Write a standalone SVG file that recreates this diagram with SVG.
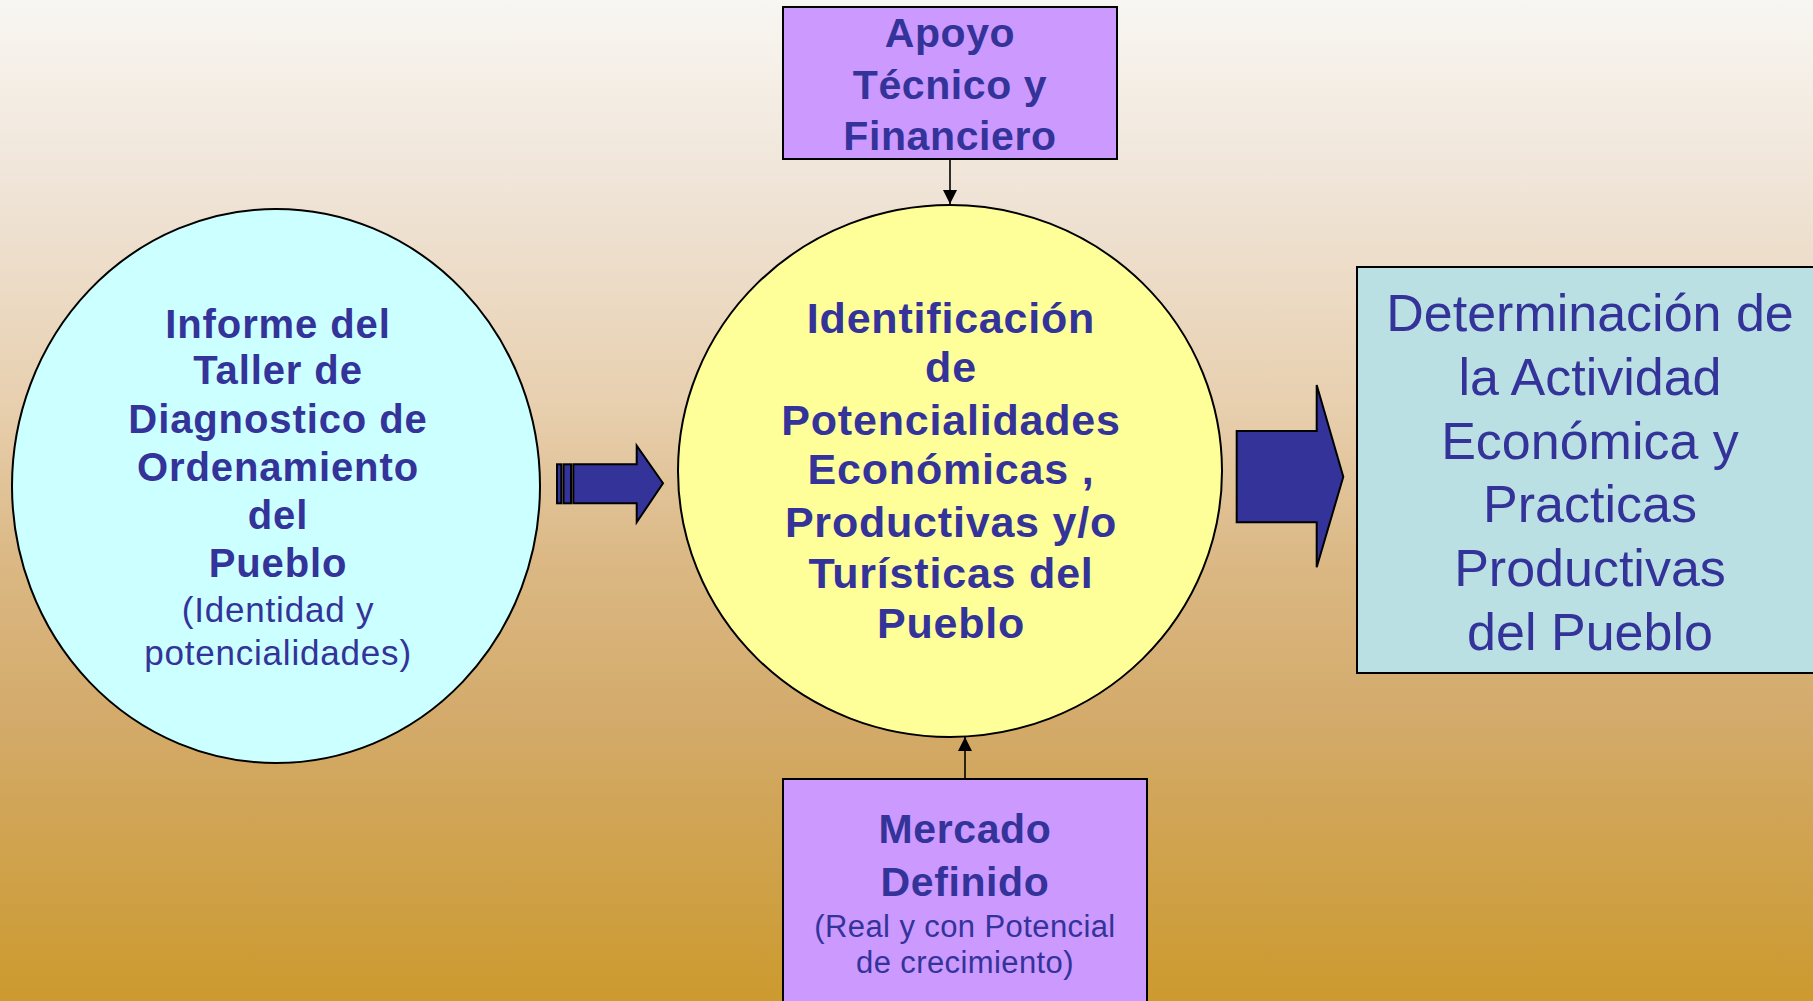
<svg xmlns="http://www.w3.org/2000/svg" width="1813" height="1001" viewBox="0 0 1813 1001">
<defs>
<linearGradient id="bg" x1="0" y1="0" x2="0" y2="1">
<stop offset="0" stop-color="#f8f6f2"/>
<stop offset="0.2" stop-color="#efe3d5"/>
<stop offset="0.4" stop-color="#e8d0b0"/>
<stop offset="0.56" stop-color="#dbb884"/>
<stop offset="0.72" stop-color="#d3aa6a"/>
<stop offset="1" stop-color="#cc9a2e"/>
</linearGradient>
<marker id="ah" viewBox="0 0 14 14" refX="14" refY="7" markerWidth="14" markerHeight="14" markerUnits="userSpaceOnUse" orient="auto">
<path d="M0,0 L14,7 L0,14 Z" fill="#000"/>
</marker>
</defs>
<style>
.b{font-family:"Liberation Sans",Arial,sans-serif;font-weight:bold;fill:#333399;text-anchor:middle}
.r{font-family:"Liberation Sans",Arial,sans-serif;fill:#333399;text-anchor:middle}
.shape{stroke:#000;stroke-width:2}
.big{fill:#333399;stroke:#000;stroke-width:2;stroke-linejoin:miter}
.conn{stroke:#000;stroke-width:1.6;fill:none}
</style>
<rect x="0" y="0" width="1813" height="1001" fill="url(#bg)"/>

<g id="connectors">
<line class="conn" x1="950" y1="159" x2="950" y2="204" marker-end="url(#ah)"/>
<line class="conn" x1="965" y1="779" x2="965" y2="737" marker-end="url(#ah)"/>
<g id="arrow-left">
<rect class="big" x="557" y="464.3" width="4.3" height="39"/>
<rect class="big" x="563.5" y="464.3" width="7.5" height="39"/>
<polygon class="big" points="573.3,464.3 636.7,464.3 636.7,445.7 663,483.3 636.7,522.3 636.7,503.3 573.3,503.3"/>
</g>
<g id="arrow-right">
<polygon class="big" points="1236.7,431 1316.7,431 1316.7,385 1343.3,476.7 1316.7,567.3 1316.7,522.3 1236.7,522.3"/>
</g>
</g>

<g id="node-apoyo">
<rect class="shape" x="783" y="7" width="334" height="152" fill="#cc99ff"/>
<text class="b" font-size="41" letter-spacing="0.6" x="950" y="47">Apoyo</text>
<text class="b" font-size="41" letter-spacing="0.6" x="950" y="99">Técnico y</text>
<text class="b" font-size="41" letter-spacing="0.6" x="950" y="150">Financiero</text>
</g>

<g id="node-informe">
<ellipse class="shape" cx="276" cy="486" rx="264" ry="277" fill="#ccffff"/>
<text class="b" font-size="40" letter-spacing="0.9" x="278" y="338">Informe del</text>
<text class="b" font-size="40" letter-spacing="0.9" x="278" y="384">Taller de</text>
<text class="b" font-size="40" letter-spacing="0.9" x="278" y="433">Diagnostico de</text>
<text class="b" font-size="40" letter-spacing="0.9" x="278" y="481">Ordenamiento</text>
<text class="b" font-size="40" letter-spacing="0.9" x="278" y="529">del</text>
<text class="b" font-size="40" letter-spacing="0.9" x="278" y="577">Pueblo</text>
<text class="r" font-size="35" letter-spacing="0.8" x="278" y="622">(Identidad y</text>
<text class="r" font-size="35" letter-spacing="0.8" x="278" y="665">potencialidades)</text>
</g>

<g id="node-identificacion">
<ellipse class="shape" cx="950" cy="471" rx="272" ry="266" fill="#ffff99"/>
<text class="b" font-size="43" letter-spacing="0.8" x="951" y="333">Identificación</text>
<text class="b" font-size="43" letter-spacing="0.8" x="951" y="382">de</text>
<text class="b" font-size="43" letter-spacing="0.8" x="951" y="435">Potencialidades</text>
<text class="b" font-size="43" letter-spacing="0.8" x="951" y="484">Económicas ,</text>
<text class="b" font-size="43" letter-spacing="0.8" x="951" y="537">Productivas y/o</text>
<text class="b" font-size="43" letter-spacing="0.8" x="951" y="588">Turísticas del</text>
<text class="b" font-size="43" letter-spacing="0.8" x="951" y="638">Pueblo</text>
</g>

<g id="node-determinacion">
<rect class="shape" x="1357" y="267" width="470" height="406" fill="#bbe0e3"/>
<text class="r" font-size="52" x="1590" y="331">Determinación de</text>
<text class="r" font-size="52" x="1590" y="395">la Actividad</text>
<text class="r" font-size="52" x="1590" y="459">Económica y</text>
<text class="r" font-size="52" x="1590" y="522">Practicas</text>
<text class="r" font-size="52" x="1590" y="586">Productivas</text>
<text class="r" font-size="52" x="1590" y="650">del Pueblo</text>
</g>

<g id="node-mercado">
<rect class="shape" x="783" y="779" width="364" height="240" fill="#cc99ff"/>
<text class="b" font-size="41" letter-spacing="0.6" x="965" y="843">Mercado</text>
<text class="b" font-size="41" letter-spacing="0.6" x="965" y="896">Definido</text>
<text class="r" font-size="31" letter-spacing="0.4" x="965" y="937">(Real y con Potencial</text>
<text class="r" font-size="31" letter-spacing="0.4" x="965" y="973">de crecimiento)</text>
</g>
</svg>
